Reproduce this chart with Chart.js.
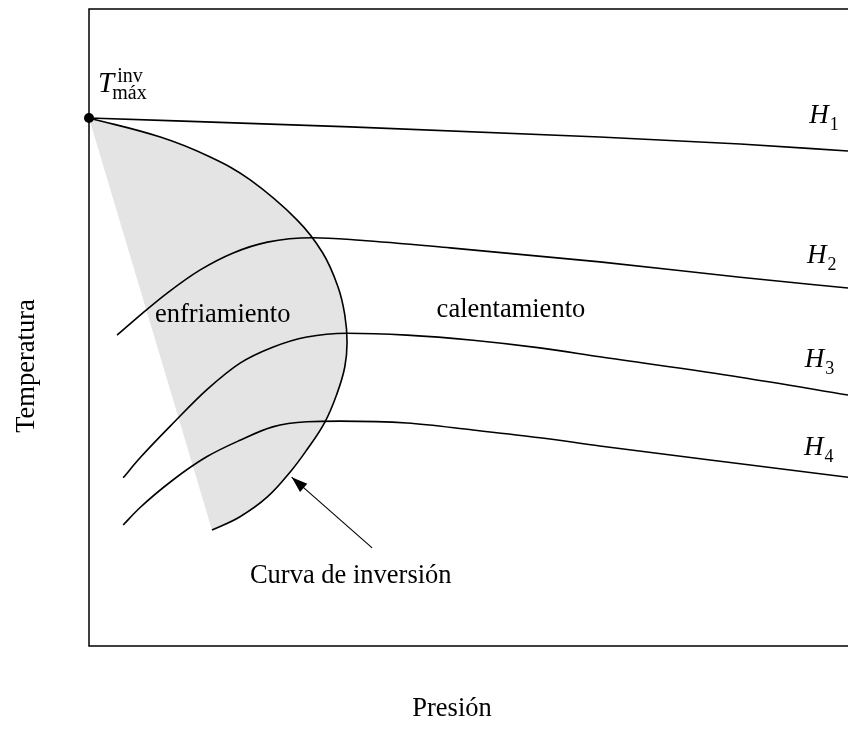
<!DOCTYPE html>
<html>
<head>
<meta charset="utf-8">
<script src="https://cdn.jsdelivr.net/npm/chart.js@4.4.0/dist/chart.umd.min.js"></script>
<style>
  html, body { margin: 0; padding: 0; background: #fff; overflow: hidden; }
  #wrap { width: 848px; height: 747px; }
</style>
</head>
<body>
<div id="wrap"><canvas id="myChart"></canvas></div>
<script>
// pressure (x) and temperature (y) in arbitrary units, 0..100
const maxInversion = [[0, 82.9]];
const inversionCurve = [[0, 82.9], [9.4, 79.9], [15.9, 76.8], [21.2, 73.2], [27.4, 66.9], [30.8, 61.7],
  [32.8, 56.4], [33.7, 52.0], [34.0, 47.7], [33.7, 43.8], [32.7, 39.7], [31.1, 35.2], [28.7, 30.8],
  [26.7, 27.6], [23.5, 23.4], [19.9, 20.3], [16.2, 18.2]];
const h1 = [[0, 82.9], [34.4, 81.5], [67.3, 79.9], [85.8, 78.8], [100, 77.7]];
const h2 = [[3.7, 48.8], [7.1, 52.3], [10.3, 55.4], [14.6, 59.0], [19.0, 61.7], [23.5, 63.4], [29.5, 64.1],
  [35.7, 63.7], [47.6, 62.5], [67.3, 60.3], [85.8, 57.9], [100, 56.2]];
const h3 = [[4.5, 26.4], [6.7, 29.5], [11.1, 35.0], [15.5, 40.2], [19.9, 44.4], [24.2, 46.9], [28.7, 48.5],
  [34.0, 49.1], [41.9, 48.8], [50.6, 48.0], [59.4, 46.8], [67.3, 45.4], [85.8, 42.2], [100, 39.4]];
const h4 = [[4.5, 19.0], [6.7, 21.7], [11.1, 26.1], [15.5, 29.7], [19.9, 32.3], [24.2, 34.4], [28.7, 35.2],
  [33.1, 35.3], [41.9, 35.0], [50.6, 33.9], [59.4, 32.7], [67.3, 31.4], [85.8, 28.6], [100, 26.5]];
const arrowLine = [[37.3, 15.4], [26.7, 26.5]];

const hNames = ['1', '2', '3', '4'];
const hLabelAt = [[94.9, 82.1], [94.6, 60.1], [94.3, 43.8], [94.2, 30.0]];
const regionNames = ['enfriamiento', 'calentamiento', 'Curva de inversión'];
const regionLabelAt = [[8.7, 50.9], [45.8, 51.6], [21.2, 9.9]];
const tMaxAt = [1.2, 87.0];

const pts = arr => arr.map(p => ({x: p[0], y: p[1]}));
const serif = '"Liberation Serif", "Times New Roman", serif';

const line = (label, data, extra) => Object.assign({
  label: label, data: pts(data), showLine: true, borderColor: '#000', borderWidth: 1.6,
  pointRadius: 0, fill: false, clip: false, cubicInterpolationMode: 'monotone'
}, extra);

const decor = {
  id: 'decor',
  afterDatasetsDraw(chart) {
    const ctx = chart.ctx;
    const xs = chart.scales.x, ys = chart.scales.y;
    const area = chart.chartArea;
    ctx.save();
    // frame
    ctx.strokeStyle = '#000';
    ctx.lineWidth = 1.5;
    ctx.beginPath();
    ctx.moveTo(area.right + 5, area.top);
    ctx.lineTo(area.left, area.top);
    ctx.lineTo(area.left, area.bottom);
    ctx.lineTo(area.right + 5, area.bottom);
    ctx.stroke();

    // arrow head
    const idx = chart.data.datasets.findIndex(d => d.label === 'arrow');
    const am = chart.getDatasetMeta(idx).data;
    const a = am[0], b = am[1];
    const ang = Math.atan2(b.y - a.y, b.x - a.x);
    const len = 16, w = 5.5;
    const c = Math.cos(ang), s = Math.sin(ang);
    ctx.fillStyle = '#000';
    ctx.beginPath();
    ctx.moveTo(b.x, b.y);
    ctx.lineTo(b.x - len * c + w * s, b.y - len * s - w * c);
    ctx.lineTo(b.x - len * c - w * s, b.y - len * s + w * c);
    ctx.closePath();
    ctx.fill();

    ctx.textBaseline = 'alphabetic';
    ctx.textAlign = 'left';
    // region labels
    ctx.font = '26.5px ' + serif;
    regionNames.forEach((t, i) => {
      ctx.fillText(t, xs.getPixelForValue(regionLabelAt[i][0]), ys.getPixelForValue(regionLabelAt[i][1]));
    });
    // H labels
    hNames.forEach((t, i) => {
      const px = xs.getPixelForValue(hLabelAt[i][0]), py = ys.getPixelForValue(hLabelAt[i][1]);
      ctx.font = 'italic 27px ' + serif;
      ctx.fillText('H', px, py);
      const wH = ctx.measureText('H').width;
      ctx.font = '18px ' + serif;
      ctx.fillText(t, px + wH + 1, py + 7);
    });
    // T max inv
    const tx = xs.getPixelForValue(tMaxAt[0]), ty = ys.getPixelForValue(tMaxAt[1]);
    ctx.font = 'italic 29px ' + serif;
    ctx.fillText('T', tx, ty);
    const wT = ctx.measureText('T').width;
    ctx.font = '20px ' + serif;
    ctx.fillText('inv', tx + wT + 3, ty - 10);
    ctx.fillText('máx', tx + wT - 2, ty + 7);

    // axis titles
    ctx.font = '26.5px ' + serif;
    ctx.textAlign = 'center';
    ctx.fillText('Presión', 452, 716);
    ctx.translate(34, 366);
    ctx.rotate(-Math.PI / 2);
    ctx.fillText('Temperatura', 0, 0);
    ctx.restore();
  }
};

const ctx = document.getElementById('myChart').getContext('2d');
const myChart = new Chart(ctx, {
  type: 'scatter',
  plugins: [decor],
  data: {
    datasets: [
      {label: 'max', data: pts(maxInversion), pointRadius: 5, pointBackgroundColor: '#000', pointBorderWidth: 0, clip: false},
      line('H1', h1),
      line('H2', h2),
      line('H3', h3),
      line('arrow', arrowLine, {borderWidth: 1.1, cubicInterpolationMode: 'default', tension: 0}),
      line('H4', h4),
      line('inversion', inversionCurve, {fill: 'shape', backgroundColor: '#e4e4e4',
        cubicInterpolationMode: 'default', tension: 0.4})
    ]
  },
  options: {
    responsive: true,
    maintainAspectRatio: false,
    animation: false,
    layout: {autoPadding: false, padding: {left: 89, top: 9, right: 0, bottom: 101}},
    plugins: {legend: {display: false}, tooltip: {enabled: false}},
    scales: {
      x: {type: 'linear', min: 0, max: 100, display: false},
      y: {type: 'linear', min: 0, max: 100, display: false}
    }
  }
});
</script>
</body>
</html>
